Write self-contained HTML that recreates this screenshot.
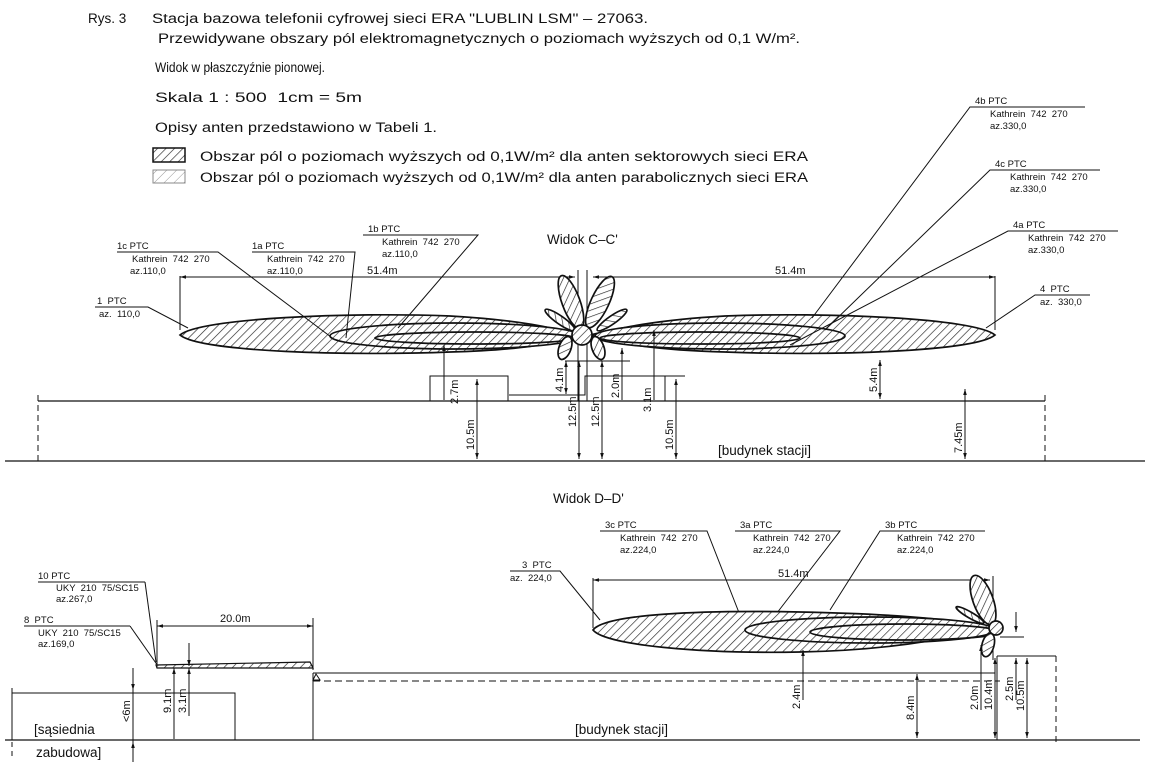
<!DOCTYPE html>
<html><head><meta charset="utf-8"><style>
html,body{margin:0;padding:0;background:#fff;}
svg{display:block;}
text{font-family:"Liberation Sans",sans-serif;fill:#111;white-space:pre;}
.t{font-size:13.5px;}
.s{font-size:9.5px;}
.d{font-size:11px;}
</style></head><body>
<svg width="1157" height="770" viewBox="0 0 1157 770" xmlns="http://www.w3.org/2000/svg">
<defs>
<pattern id="h" width="6" height="6" patternUnits="userSpaceOnUse" patternTransform="rotate(45)">
<rect width="6" height="6" fill="#fff"/><line x1="0" y1="0" x2="0" y2="6" stroke="#222" stroke-width="1.3"/>
</pattern>
<pattern id="hl" width="7" height="7" patternUnits="userSpaceOnUse" patternTransform="rotate(45)">
<rect width="7" height="7" fill="#fff"/><line x1="0" y1="0" x2="0" y2="7" stroke="#999" stroke-width="1"/>
</pattern>
<marker id="a" viewBox="0 0 10 10" refX="10" refY="5" markerWidth="9" markerHeight="6" orient="auto-start-reverse"><path d="M0,2 L10,5 L0,8z" fill="#111"/></marker>
</defs>

<text class="t" x="88" y="23">Rys. 3</text>
<text class="t" x="152" y="23" textLength="496" lengthAdjust="spacingAndGlyphs">Stacja bazowa telefonii cyfrowej sieci ERA "LUBLIN LSM" – 27063.</text>
<text class="t" x="158" y="43" textLength="642" lengthAdjust="spacingAndGlyphs">Przewidywane obszary pól elektromagnetycznych o poziomach wyższych od 0,1 W/m².</text>
<text class="t" x="155" y="72" textLength="170" lengthAdjust="spacingAndGlyphs">Widok w płaszczyźnie pionowej.</text>
<text class="t" x="155" y="102" textLength="207" lengthAdjust="spacingAndGlyphs">Skala 1 : 500  1cm = 5m</text>
<text class="t" x="155" y="132" textLength="282" lengthAdjust="spacingAndGlyphs">Opisy anten przedstawiono w Tabeli 1.</text>
<rect x="153" y="148" width="32" height="14" fill="url(#h)" stroke="#111" stroke-width="1.5"/>
<rect x="153" y="170" width="32" height="13" fill="url(#hl)" stroke="#888" stroke-width="1"/>
<text class="t" x="200" y="161" textLength="608" lengthAdjust="spacingAndGlyphs">Obszar pól o poziomach wyższych od 0,1W/m² dla anten sektorowych sieci ERA</text>
<text class="t" x="200" y="182" textLength="608" lengthAdjust="spacingAndGlyphs">Obszar pól o poziomach wyższych od 0,1W/m² dla anten parabolicznych sieci ERA</text>

<text class="t" x="547" y="244">Widok C–C'</text>
<g stroke="#111" fill="none" stroke-width="1">
<line x1="5" y1="461" x2="1145" y2="461" stroke-width="1.3"/>
<line x1="38" y1="401" x2="1045" y2="401" stroke-width="1.2"/>
<line x1="38" y1="395" x2="38" y2="465" stroke-dasharray="6,4"/>
<line x1="1045" y1="395" x2="1045" y2="465" stroke-dasharray="6,4"/>
<rect x="430" y="376" width="78" height="25"/>
<polyline points="509,395 585,395 585,376 665,376 665,401"/>
<line x1="665" y1="376" x2="685" y2="376"/>
<line x1="565" y1="361" x2="630" y2="361"/>
<line x1="578" y1="270" x2="578" y2="401"/>
<line x1="587" y1="270" x2="587" y2="401"/>
<line x1="180" y1="276" x2="180" y2="330"/>
<line x1="995" y1="276" x2="995" y2="330"/>
<line x1="180" y1="277" x2="575" y2="277" marker-start="url(#a)" marker-end="url(#a)"/>
<line x1="593" y1="277" x2="995" y2="277" marker-start="url(#a)" marker-end="url(#a)"/>
</g>
<text class="d" x="367" y="274">51.4m</text>
<text class="d" x="775" y="274">51.4m</text>
<g stroke="#111" stroke-width="1.7" fill="url(#h)">
<path d="M180,335 C200,318 350,312 450,316 C520,320 555,328 578,335 C555,344 520,350 450,352 C350,356 200,352 180,335Z"/>
<path d="M995,335 C975,318 825,312 725,316 C655,320 620,328 590,335 C620,344 655,350 725,352 C825,356 975,352 995,335Z"/>
<ellipse cx="455" cy="336" rx="125" ry="13"/>
<ellipse cx="720" cy="336" rx="125" ry="13"/>
<ellipse cx="475" cy="338" rx="100" ry="6" fill="none"/>
<ellipse cx="700" cy="338" rx="100" ry="6" fill="none"/>
<ellipse cx="571" cy="302" rx="9" ry="28" transform="rotate(-20 571 302)"/>
<ellipse cx="600" cy="302" rx="9" ry="28" transform="rotate(25 600 302)"/>
<ellipse cx="560" cy="320" rx="4" ry="18" transform="rotate(-55 560 320)"/>
<ellipse cx="612" cy="320" rx="4" ry="18" transform="rotate(55 612 320)"/>
<ellipse cx="565" cy="348" rx="6" ry="12" transform="rotate(20 565 348)"/>
<ellipse cx="598" cy="348" rx="6" ry="12" transform="rotate(-20 598 348)"/>
<circle cx="582" cy="335" r="10"/>
</g>
<g stroke="#111" stroke-width="1" fill="none">
<line x1="444" y1="400" x2="444" y2="345" marker-end="url(#a)"/>
<line x1="477" y1="379" x2="477" y2="459" marker-start="url(#a)" marker-end="url(#a)"/>
<line x1="566" y1="361" x2="566" y2="394" marker-start="url(#a)" marker-end="url(#a)"/>
<line x1="579" y1="361" x2="579" y2="459" marker-start="url(#a)" marker-end="url(#a)"/>
<line x1="602" y1="361" x2="602" y2="459" marker-start="url(#a)" marker-end="url(#a)"/>
<line x1="622" y1="400" x2="622" y2="348" marker-end="url(#a)"/>
<line x1="654" y1="400" x2="654" y2="330" marker-end="url(#a)"/>
<line x1="676" y1="379" x2="676" y2="459" marker-start="url(#a)" marker-end="url(#a)"/>
<line x1="880" y1="360" x2="880" y2="399" marker-start="url(#a)" marker-end="url(#a)"/>
<line x1="965" y1="389" x2="965" y2="459" marker-start="url(#a)" marker-end="url(#a)"/>
</g>
<g class="d">
<text transform="translate(458,404) rotate(-90)">2.7m</text>
<text transform="translate(474,450) rotate(-90)">10.5m</text>
<text transform="translate(563,392) rotate(-90)">4.1m</text>
<text transform="translate(576,427) rotate(-90)">12.5m</text>
<text transform="translate(599,427) rotate(-90)">12.5m</text>
<text transform="translate(619,398) rotate(-90)">2.0m</text>
<text transform="translate(651,412) rotate(-90)">3.1m</text>
<text transform="translate(673,450) rotate(-90)">10.5m</text>
<text transform="translate(877,392) rotate(-90)">5.4m</text>
<text transform="translate(962,453) rotate(-90)">7.45m</text>
</g>
<text class="t" x="718" y="455">[budynek stacji]</text>

<g stroke="#111" stroke-width="1" fill="none">
<polyline points="117,252 218,252 335,340"/>
<polyline points="252,252 355,252 346,338"/>
<polyline points="363,235 478,235 398,328"/>
<polyline points="95,307 148,307 188,328"/>
<polyline points="1085,107 970,107 812,318"/>
<polyline points="1100,170 990,170 825,330"/>
<polyline points="1118,231 1008,231 790,345"/>
<polyline points="1090,295 1035,295 986,328"/>
</g>
<g class="s">
<text x="117" y="249">1c PTC</text><text x="132" y="262">Kathrein  742  270</text><text x="130" y="274">az.110,0</text>
<text x="252" y="249">1a PTC</text><text x="267" y="262">Kathrein  742  270</text><text x="267" y="274">az.110,0</text>
<text x="368" y="232">1b PTC</text><text x="382" y="245">Kathrein  742  270</text><text x="382" y="257">az.110,0</text>
<text x="97" y="304">1  PTC</text><text x="99" y="317">az.  110,0</text>
<text x="975" y="104">4b PTC</text><text x="990" y="117">Kathrein  742  270</text><text x="990" y="129">az.330,0</text>
<text x="995" y="167">4c PTC</text><text x="1010" y="180">Kathrein  742  270</text><text x="1010" y="192">az.330,0</text>
<text x="1013" y="228">4a PTC</text><text x="1028" y="241">Kathrein  742  270</text><text x="1028" y="253">az.330,0</text>
<text x="1040" y="292">4  PTC</text><text x="1040" y="305">az.  330,0</text>
</g>

<text class="t" x="553" y="503">Widok D–D'</text>
<g stroke="#111" fill="none" stroke-width="1">
<line x1="5" y1="740" x2="1140" y2="740" stroke-width="1.3"/>
<polyline points="12,740 12,693 235,693 235,740"/>
<line x1="12" y1="688" x2="12" y2="760" stroke-dasharray="5,4"/>
<line x1="313" y1="673" x2="313" y2="740"/>
<line x1="313" y1="673" x2="995" y2="673"/>
<line x1="313" y1="681" x2="1000" y2="681" stroke-dasharray="7,4"/>
<line x1="997" y1="656" x2="997" y2="740"/>
<line x1="997" y1="656" x2="1056" y2="656"/>
<line x1="1056" y1="656" x2="1056" y2="745" stroke-dasharray="6,4"/>
<line x1="993" y1="576" x2="993" y2="660"/>
<line x1="593" y1="578" x2="593" y2="628"/>
<line x1="593" y1="580" x2="990" y2="580" marker-start="url(#a)" marker-end="url(#a)"/>
<line x1="157" y1="620" x2="157" y2="666"/>
<line x1="313" y1="618" x2="313" y2="670"/>
<line x1="157" y1="626" x2="313" y2="626" marker-start="url(#a)" marker-end="url(#a)"/>
<polyline points="130,626 158,666"/>
<polyline points="145,582 156,662"/>
<polyline points="38,582 145,582"/>
<polyline points="24,626 130,626"/>
<polyline points="510,571 560,571 600,620"/>
<polyline points="600,531 707,531 745,628"/>
<polyline points="735,531 840,531 770,622"/>
<polyline points="985,531 880,531 830,610"/>
</g>
<path d="M156,665 L310,662 L313,668 L157,668Z" fill="url(#h)" stroke="#111" stroke-width="1.2"/>
<path d="M316,674 L320,680 L313,680Z" fill="none" stroke="#111"/>
<text class="d" x="220" y="622">20.0m</text>
<text class="d" x="778" y="577">51.4m</text>
<g stroke="#111" stroke-width="1.7" fill="url(#h)">
<path d="M593,630 C605,614 700,610 800,612 C900,614 960,620 990,628 C960,636 900,650 800,652 C700,654 605,645 593,630Z"/>
<ellipse cx="870" cy="630" rx="125" ry="13"/>
<ellipse cx="905" cy="632" rx="95" ry="8" fill="none"/>
<ellipse cx="983" cy="600" rx="10" ry="26" transform="rotate(-20 983 600)"/>
<ellipse cx="970" cy="615" rx="3" ry="16" transform="rotate(-60 970 615)"/>
<ellipse cx="988" cy="645" rx="6" ry="12" transform="rotate(15 988 645)"/>
<circle cx="996" cy="628" r="7"/>
</g>
<g stroke="#111" stroke-width="1" fill="none">
<line x1="133" y1="668" x2="133" y2="690" marker-end="url(#a)"/>
<line x1="133" y1="762" x2="133" y2="742" marker-end="url(#a)"/>
<line x1="133" y1="690" x2="133" y2="742"/>
<line x1="174" y1="739" x2="174" y2="668" marker-end="url(#a)"/>
<line x1="189" y1="643" x2="189" y2="666" marker-end="url(#a)"/>
<line x1="189" y1="716" x2="189" y2="668" marker-end="url(#a)"/>
<line x1="803" y1="700" x2="803" y2="650" marker-end="url(#a)"/>
<line x1="917" y1="674" x2="917" y2="738" marker-start="url(#a)" marker-end="url(#a)"/>
<line x1="981" y1="710" x2="981" y2="645" marker-end="url(#a)"/>
<line x1="995" y1="658" x2="995" y2="738" marker-start="url(#a)" marker-end="url(#a)"/>
<line x1="1016" y1="612" x2="1016" y2="632" marker-end="url(#a)"/>
<line x1="1016" y1="700" x2="1016" y2="658" marker-end="url(#a)"/>
<line x1="1027" y1="658" x2="1027" y2="738" marker-start="url(#a)" marker-end="url(#a)"/>
<line x1="1000" y1="637" x2="1024" y2="637"/>
</g>
<g class="d">
<text transform="translate(130,722) rotate(-90)">&lt;6m</text>
<text transform="translate(171,713) rotate(-90)">9.1m</text>
<text transform="translate(186,713) rotate(-90)">3.1m</text>
<text transform="translate(800,709) rotate(-90)">2.4m</text>
<text transform="translate(914,720) rotate(-90)">8.4m</text>
<text transform="translate(978,710) rotate(-90)">2.0m</text>
<text transform="translate(992,710) rotate(-90)">10.4m</text>
<text transform="translate(1013,701) rotate(-90)">2.5m</text>
<text transform="translate(1024,711) rotate(-90)">10.5m</text>
</g>
<text class="t" x="575" y="734">[budynek stacji]</text>
<text class="t" x="34" y="734">[sąsiednia</text>
<text class="t" x="36" y="757">zabudowa]</text>
<g class="s">
<text x="38" y="579" fill="#444">10 PTC</text><text x="56" y="591">UKY  210  75/SC15</text><text x="56" y="602">az.267,0</text>
<text x="24" y="623">8  PTC</text><text x="38" y="636">UKY  210  75/SC15</text><text x="38" y="647">az.169,0</text>
<text x="522" y="568">3  PTC</text><text x="510" y="581">az.  224,0</text>
<text x="605" y="528">3c PTC</text><text x="620" y="541">Kathrein  742  270</text><text x="620" y="553">az.224,0</text>
<text x="740" y="528">3a PTC</text><text x="753" y="541">Kathrein  742  270</text><text x="753" y="553">az.224,0</text>
<text x="885" y="528">3b PTC</text><text x="897" y="541">Kathrein  742  270</text><text x="897" y="553">az.224,0</text>
</g>
</svg>
</body></html>
